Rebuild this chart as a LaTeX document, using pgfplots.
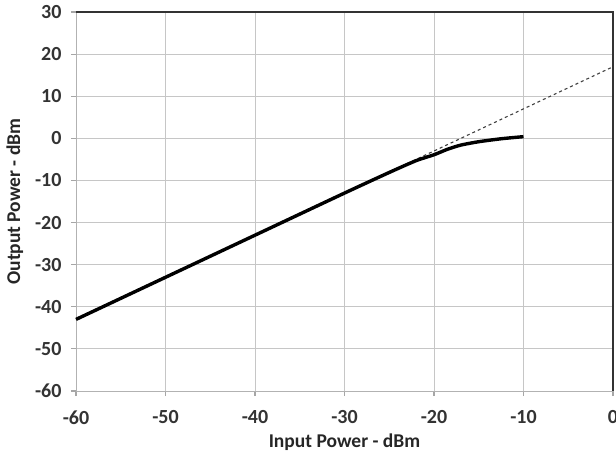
\documentclass[border=0pt]{standalone}
\usepackage{pgfplots}
\pgfplotsset{compat=1.18}
\usepackage{fontspec}
\setmainfont{Carlito}
\begin{document}
\begin{tikzpicture}
\useasboundingbox (-76pt,-70pt) rectangle (540pt,391pt);
\begin{axis}[
  at={(0pt,0pt)}, anchor=south west,
  scale only axis, width=537pt, height=379pt,
  xmin=-60, xmax=0, ymin=-60, ymax=30,
  xtick={-60,-50,...,0}, ytick={-60,-50,...,30},
  grid=major, major grid style={gray!45, line width=0.8pt},
  axis line style={gray!60, line width=0.9pt},
  tick style={gray!70, line width=1.2pt},
  tick align=outside, major tick length=5pt,
  xtick pos=bottom, ytick pos=left,
  /pgf/number format/assume math mode=true,
  tick label style={font=\fontsize{20}{22}\selectfont\bfseries, text=black!80},
  xticklabel style={yshift=-11pt},
  yticklabel style={xshift=-6pt},
  label style={font=\fontsize{19.5}{22}\selectfont\bfseries, text=black!85},
  xlabel={Input Power - dBm},
  ylabel={Output Power - dBm},
  xlabel style={yshift=-3pt},
  ylabel style={yshift=5pt},
  clip=false,
]
\addplot[black!75, line width=1.1pt, dash pattern=on 3pt off 3pt] coordinates {(-60,-43) (0,17)};
\addplot[black, line width=3.4pt, smooth, tension=0.4] coordinates {
  (-60,-43) (-50,-33) (-40,-23) (-30,-13) (-25,-8.1) (-22,-5.3) (-20,-3.9) (-18.5,-2.6) (-17,-1.6) (-15,-0.8) (-12.5,-0.1) (-10,0.4)};
\draw[black!80, line width=1.3pt] (rel axis cs:0,1) -- (rel axis cs:1,1) -- (rel axis cs:1,0);
\end{axis}
\end{tikzpicture}
\end{document}
